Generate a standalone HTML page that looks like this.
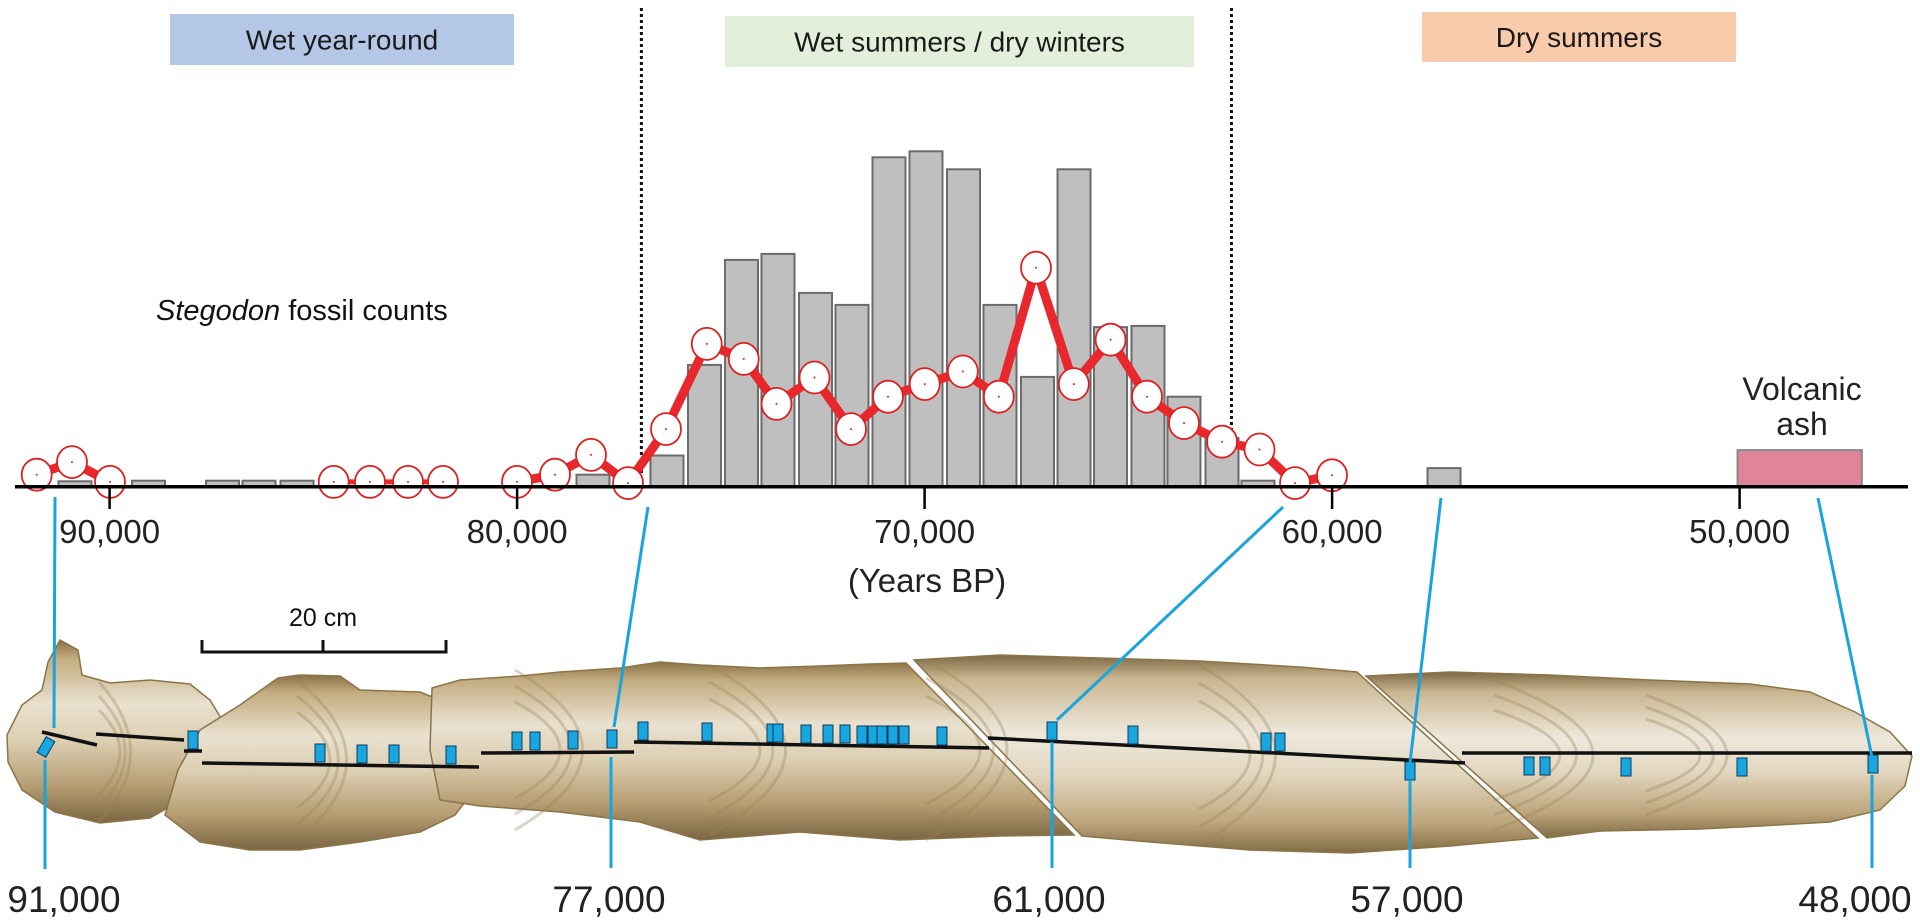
<!DOCTYPE html>
<html><head><meta charset="utf-8"><style>
html,body{margin:0;padding:0;background:#fff;}
svg{display:block;font-family:"Liberation Sans",sans-serif;}
</style></head><body>
<svg id="chart" width="1920" height="923" viewBox="0 0 1920 923" xmlns="http://www.w3.org/2000/svg">
<defs>
<linearGradient id="tusk" x1="0" y1="0" x2="0" y2="1">
<stop offset="0" stop-color="#8a7247"/><stop offset="0.1" stop-color="#c2ab7e"/><stop offset="0.35" stop-color="#e9e1d0"/><stop offset="0.55" stop-color="#dccfb2"/><stop offset="0.8" stop-color="#b59c72"/><stop offset="1" stop-color="#7a6642"/>
</linearGradient>
<linearGradient id="tusk2" x1="0" y1="0" x2="0" y2="1">
<stop offset="0" stop-color="#7d6a45"/><stop offset="0.12" stop-color="#c9b690"/><stop offset="0.4" stop-color="#eee8dc"/><stop offset="0.6" stop-color="#e2d7c0"/><stop offset="0.85" stop-color="#bda57c"/><stop offset="1" stop-color="#806b44"/>
</linearGradient>
</defs>
<g id="regions"></g>
<g id="tuskg"></g>
<g id="plot"></g>
</svg>
<script>
// ---- data ----
const tickYears = [90000, 80000, 70000, 60000, 50000];
const tickLabels = ["90,000", "80,000", "70,000", "60,000", "50,000"];
const barYears = [90849, 89045, 87229, 86334, 85401, 78138, 76322, 75401, 74494, 73598, 72677, 71782, 70874, 69966, 69045, 68150, 67230, 66333, 65438, 64518, 63635, 62702, 61818, 57253];
const barCounts = [0.9, 1, 1, 1, 1, 2, 5.2, 20.3, 37.8, 38.8, 32.3, 30.3, 54.9, 55.9, 52.9, 30.3, 18.3, 52.9, 26.6, 26.8, 15, 8.1, 1, 3.1];
const lineYears = [91789, 90923, 89990, 84501, 83610, 82677, 81818, 80002, 79070, 78186, 77278, 76346, 75346, 74438, 73634, 72702, 71806, 70898, 69997, 69062, 68179, 67266, 66338, 65436, 64542, 63634, 62701, 61781, 60910, 60002];
const lineValues = [2.0, 4.1, 0.8, 0.8, 0.8, 0.8, 0.8, 0.8, 2.0, 5.3, 0.6, 9.6, 23.8, 21.3, 13.8, 18.2, 9.6, 15.0, 17.1, 19.2, 15.0, 36.5, 17.1, 24.5, 15.0, 10.6, 7.5, 6.2, 0.6, 1.9];
const lineSegments = [[0, 2], [3, 6], [7, 29]];
const ashStart = 50050, ashEnd = 47000, ashLevel = 6.1;
const boundaryYears = [76950, 62470];
const sampleYears = [91000, 77000, 61000, 57000, 48000];
const sampleLabels = ["91,000", "77,000", "61,000", "57,000", "48,000"];
const barWidthYears = 810;

// ---- scales ----
const X = yr => 109.6 + (90000 - yr) * 0.04075;
const BASE = 486.7;
const Y = v => BASE - v * 6;
const NS = "http://www.w3.org/2000/svg";
function mk(tag, attrs, parent, text) {
  const e = document.createElementNS(NS, tag);
  for (const k in attrs) e.setAttribute(k, attrs[k]);
  if (text !== undefined) e.textContent = text;
  parent.appendChild(e);
  return e;
}
const plot = document.getElementById('plot');
const regions = document.getElementById('regions');
const tg = document.getElementById('tuskg');

// region boxes
const boxes = [[170,14,344,51,"#b4c7e7","Wet year-round","wet-year-round-label"],[725,16,469,51,"#e2efda","Wet summers / dry winters","wet-summers-label"],[1422,12,314,50,"#f8cbad","Dry summers","dry-summers-label"]];
boxes.forEach(b => {
  const r = mk('rect', {x:b[0], y:b[1], width:b[2], height:b[3], fill:b[4]}, regions);
  
  
  const t = mk('text', {x:b[0]+b[2]/2, y:b[1]+b[3]/2+10, 'text-anchor':'middle', 'font-size':28, fill:'#1a1a1a'}, regions, b[5]);
  
  
});

// dotted boundaries
boundaryYears.forEach((yr, i) => {
  const l = mk('line', {x1:X(yr), x2:X(yr), y1:8, y2:474, stroke:'#111', 'stroke-width':3, 'stroke-dasharray':'3,3'}, plot);
  
  
});

// title
const tt = mk('text', {x:156, y:320, 'font-size':29, fill:'#111'}, plot);


mk('tspan', {'font-style':'italic'}, tt, 'Stegodon');
mk('tspan', {}, tt, ' fossil counts');

// bars
barYears.forEach((yr, i) => {
  const x = X(yr) - barWidthYears * 0.04075 / 2;
  const w = barWidthYears * 0.04075;
  const r = mk('rect', {x:x, y:Y(barCounts[i]), width:w, height:BASE - Y(barCounts[i]), fill:'#bfbfbf', stroke:'#6b6b6b', 'stroke-width':2}, plot);
  
  
});

// ash
const ash = mk('rect', {x:X(ashStart), y:Y(ashLevel), width:X(ashEnd)-X(ashStart), height:BASE-Y(ashLevel), fill:'#e0849a', stroke:'#888', 'stroke-width':2}, plot);


const at = mk('text', {x:1802, y:400, 'text-anchor':'middle', 'font-size':32, fill:'#222'}, plot, 'Volcanic');


const at2 = mk('text', {x:1802, y:435, 'text-anchor':'middle', 'font-size':32, fill:'#222'}, plot, 'ash');



// line segments
lineSegments.forEach((s, k) => {
  let pts = [];
  for (let i = s[0]; i <= s[1]; i++) pts.push(X(lineYears[i]).toFixed(1) + ',' + Y(lineValues[i]).toFixed(1));
  const p = mk('polyline', {points:pts.join(' '), fill:'none', stroke:'#e8282c', 'stroke-width':k===1?5:9, 'stroke-linejoin':'round'}, plot);
  
  
});
lineYears.forEach((yr, i) => {
  const c = mk('ellipse', {cx:X(yr), cy:Y(lineValues[i]), rx:15, ry:16, fill:'#fff', stroke:'#e02020', 'stroke-width':1.8}, plot);
  
  
  const d = mk('circle', {cx:X(yr), cy:Y(lineValues[i]), r:1, fill:'#e02020'}, plot);
  
  
});

// axis
const ax = mk('line', {x1:15, x2:1908, y1:BASE, y2:BASE, stroke:'#000', 'stroke-width':3.5}, plot);


tickYears.forEach((yr, i) => {
  const l = mk('line', {x1:X(yr), x2:X(yr), y1:BASE, y2:509, stroke:'#000', 'stroke-width':2.5}, plot);
  
  
  const t = mk('text', {x:X(yr), y:543, 'text-anchor':'middle', 'font-size':33, fill:'#222'}, plot, tickLabels[i]);
  
  
});
const xt = mk('text', {x:927, y:592, 'text-anchor':'middle', 'font-size':33, fill:'#222'}, plot, '(Years BP)');



// ---- tusk image approximation ----
const pieces = [
 ["7,735 22,705 42,690 48,662 60,640 78,650 82,675 110,683 150,680 190,684 210,700 227,728 215,760 190,795 150,818 100,823 55,812 22,790 8,762","url(#tusk)"],
 ["165,815 178,770 200,730 240,705 278,678 300,675 340,676 360,690 420,692 460,708 480,740 478,785 455,815 420,832 360,842 300,850 250,850 200,842","url(#tusk)"],
 ["430,750 432,688 460,680 520,676 560,672 620,668 660,662 700,665 760,668 820,666 870,664 906,663 1074,835 1000,836 900,840 800,832 700,840 640,822 560,812 480,806 440,800","url(#tusk)"],
 ["914,660 1000,655 1100,658 1200,661 1300,667 1357,672 1538,838 1450,846 1350,853 1250,850 1150,842 1082,836","url(#tusk2)"],
 ["1366,676 1450,672 1550,675 1650,680 1750,684 1810,692 1855,712 1890,732 1912,756 1905,786 1880,810 1830,822 1760,826 1700,829 1600,831 1547,838","url(#tusk2)"]
];
pieces.forEach((p, i) => {
  const e = mk('polygon', {points:p[0], fill:p[1], stroke:'#8a7448', 'stroke-width':1.5}, tg);
  
  
});
// growth ring texture
const rings = [[120,752,70,70],[330,760,110,80],[560,750,150,80],[760,750,170,85],[980,750,180,90],[1250,755,170,90],[1560,755,220,75],[1700,755,180,60]];
rings.forEach((r, i) => {
  for (let k = 0; k < 3; k++) {
    const e = mk('path', {d:`M ${r[0]-r[2]*0.3} ${r[1]-r[3]*(1-k*0.2)} Q ${r[0]+r[2]*(0.6-k*0.15)} ${r[1]} ${r[0]-r[2]*0.3} ${r[1]+r[3]*(1-k*0.2)}`, fill:'none', stroke:'#9a8558', 'stroke-width':3, opacity:0.35}, tg);
    
    
  }
});
// transect lines
const transects = [[42,732,97,745],[96,734,184,740],[184,751,202,751],[202,763,479,767],[481,753,634,752],[634,742,989,748],[988,738,1465,763],[1462,753,1912,753]];
transects.forEach(s => {
  const e = mk('line', {x1:s[0], y1:s[1], x2:s[2], y2:s[3], stroke:'#111', 'stroke-width':3.5}, tg);
  
  
});
// sample markers
const markers = [[46,747],[193,740],[320,753],[362,754],[394,754],[451,755],[517,741],[535,741],[573,740],[612,739],[643,731],[707,732],[772,733],[778,733],[806,734],[828,734],[845,734],[862,735],[873,735],[882,735],[893,735],[904,735],[942,736],[1052,731],[1133,735],[1266,742],[1280,742],[1410,771],[1529,766],[1545,766],[1626,767],[1742,767],[1873,764]];
markers.forEach((m, i) => {
  const e = mk('rect', {x:m[0]-5, y:m[1]-9, width:10, height:18, fill:'#19a6e0', stroke:'#0b3a5a', 'stroke-width':1}, tg);
  if (i === 0) e.setAttribute('transform', 'rotate(30 46 747)');
  
  
});
// connectors
const conn = [[55,497,54,728,45,760,45,869],[648,507,614,727,611,757,611,868],[1283,507,1057,720,1052,742,1052,868],[1441,498,1410,763,1410,780,1410,868],[1818,498,1872,757,1872,775,1872,868]];
conn.forEach((c, i) => {
  const a = mk('line', {x1:c[0], y1:c[1], x2:c[2], y2:c[3], stroke:'#1ba3dc', 'stroke-width':3}, tg);
  
  
  const b = mk('line', {x1:c[4], y1:c[5], x2:c[6], y2:c[7], stroke:'#1ba3dc', 'stroke-width':3}, tg);
  
  
});
const labX = [64, 609, 1049, 1407, 1855];
sampleLabels.forEach((s, i) => {
  const t = mk('text', {x:labX[i], y:912, 'text-anchor':'middle', 'font-size':37, fill:'#222'}, tg, s);
  
  
});
// scale bar
const sb = mk('path', {d:'M 202 640 V 652 H 446 V 640 M 323 640 V 652', fill:'none', stroke:'#111', 'stroke-width':3}, tg);


const st = mk('text', {x:323, y:626, 'text-anchor':'middle', 'font-size':25, fill:'#111'}, tg, '20 cm');


</script>
</body></html>
